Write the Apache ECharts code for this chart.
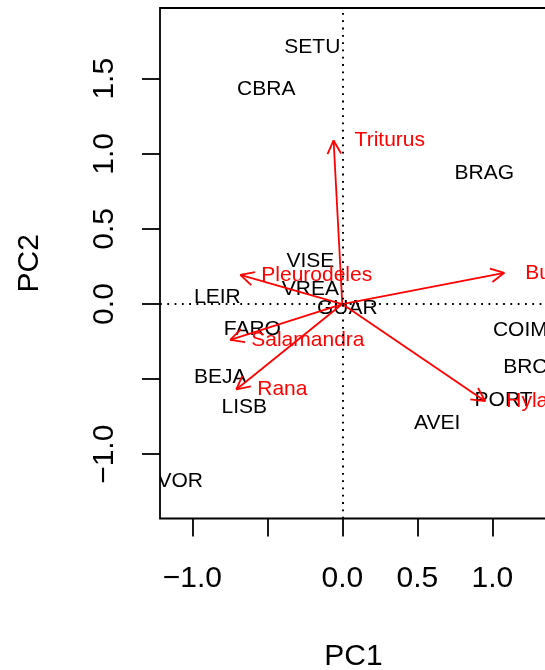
<!DOCTYPE html>
<html>
<head>
<meta charset="utf-8">
<script src="https://cdn.jsdelivr.net/npm/echarts@6/dist/echarts.min.js"></script>
<style>
  html, body { margin: 0; padding: 0; background: #fff; }
  #main { width: 545px; height: 670px; }
</style>
</head>
<body>
<div id="main"></div>
<script>
// PCA biplot: district scores (black) and species loadings (red arrows)
const siteNames = ['SETU', 'CBRA', 'BRAG', 'VISE', 'VREA', 'LEIR', 'GUAR', 'FARO',
                   'COIM', 'BRCA', 'BEJA', 'LISB', 'PORT', 'AVEI', 'EVOR'];
const siteX = [-0.200, -0.507, 0.947, -0.213, -0.213, -0.833, 0.033, -0.600,
               1.187, 1.267, -0.813, -0.653, 1.075, 0.633, -1.127];
const siteY = [1.708, 1.428, 0.869, 0.285, 0.101, 0.043, -0.030, -0.170,
               -0.176, -0.423, -0.489, -0.689, -0.642, -0.796, -1.182];

const speciesNames = ['Triturus', 'Pleurodeles', 'Bufo', 'Salamandra', 'Rana', 'Hyla'];
const speciesX = [-0.058, -0.680, 1.080, -0.747, -0.707, 0.953];
const speciesY = [1.089, 0.194, 0.208, -0.238, -0.569, -0.647];

const xTickValues = [-1.0, -0.5, 0.0, 0.5, 1.0];
const xLabelValues = [-1.0, 0.0, 0.5, 1.0];
const yTickValues = [-1.0, -0.5, 0.0, 0.5, 1.0, 1.5];
const yLabelValues = [-1.0, 0.0, 0.5, 1.0, 1.5];

const FONT = '"Liberation Sans", Arial, Helvetica, sans-serif';
const RED = '#ff0000';

const fmt = v => v.toFixed(1).replace('-', '\u2212');

const chart = echarts.init(document.getElementById('main'), null, { renderer: 'canvas' });

const option = {
  animation: false,
  backgroundColor: '#ffffff',
  grid: {
    left: 160, top: 8, right: -2, bottom: 151.5,
    containLabel: false, outerBoundsMode: 'none',
    show: true, borderColor: '#000', borderWidth: 1.8, backgroundColor: 'transparent'
  },
  xAxis: {
    type: 'value', min: -1.2153, max: 1.3647,
    name: 'PC1', nameLocation: 'middle', nameGap: 123,
    nameTextStyle: { fontSize: 30, color: '#000', fontFamily: FONT },
    axisLine: { show: false, onZero: false },
    splitLine: { show: false },
    axisTick: { show: true, length: 18, customValues: xTickValues,
                lineStyle: { color: '#000', width: 1.8 } },
    axisLabel: { customValues: xLabelValues, formatter: fmt, fontSize: 30,
                 margin: 45, color: '#000', fontFamily: FONT }
  },
  yAxis: {
    type: 'value', min: -1.428, max: 1.971,
    name: 'PC2', nameLocation: 'middle', nameGap: 115, nameRotate: 90,
    nameTextStyle: { fontSize: 30, color: '#000', fontFamily: FONT },
    axisLine: { show: false, onZero: false },
    splitLine: { show: false },
    axisTick: { show: true, length: 18, customValues: yTickValues,
                lineStyle: { color: '#000', width: 1.8 } },
    axisLabel: { customValues: yLabelValues, formatter: fmt, fontSize: 30, rotate: 90,
                 margin: 40, color: '#000', fontFamily: FONT }
  },
  series: [
    {
      // dotted reference lines through the origin
      type: 'scatter', data: [], z: 1, silent: true,
      markLine: {
        silent: true, symbol: 'none', animation: false,
        label: { show: false },
        lineStyle: { color: '#000', width: 2, type: [1.8, 5.5] },
        data: [{ xAxis: 0 }, { yAxis: 0 }]
      }
    },
    {
      // district labels
      type: 'custom', clip: true, z: 3,
      data: siteX.map((x, i) => [x, siteY[i], i]),
      encode: { x: 0, y: 1 },
      renderItem: (params, api) => {
        const p = api.coord([api.value(0), api.value(1)]);
        return {
          type: 'text',
          style: {
            text: siteNames[api.value(2)], x: p[0], y: p[1],
            align: 'center', verticalAlign: 'middle',
            fill: '#000', font: '21px ' + FONT
          }
        };
      }
    },
    {
      // species loading arrows with labels
      type: 'custom', clip: true, z: 4,
      data: speciesX.map((x, i) => [x, speciesY[i], i]),
      encode: { x: 0, y: 1 },
      renderItem: (params, api) => {
        const o = api.coord([0, 0]);
        const t = api.coord([api.value(0), api.value(1)]);
        const ang = Math.atan2(o[1] - t[1], o[0] - t[0]);
        const len = 15, spread = 27 * Math.PI / 180;
        const h1 = [t[0] + len * Math.cos(ang + spread), t[1] + len * Math.sin(ang + spread)];
        const h2 = [t[0] + len * Math.cos(ang - spread), t[1] + len * Math.sin(ang - spread)];
        const ls = { stroke: RED, lineWidth: 1.8, fill: 'none' };
        return {
          type: 'group',
          children: [
            { type: 'line', shape: { x1: o[0], y1: o[1], x2: t[0], y2: t[1] }, style: ls },
            { type: 'line', shape: { x1: h1[0], y1: h1[1], x2: t[0], y2: t[1] }, style: ls },
            { type: 'line', shape: { x1: h2[0], y1: h2[1], x2: t[0], y2: t[1] }, style: ls },
            {
              type: 'text',
              style: {
                text: speciesNames[api.value(2)], x: t[0] + 21, y: t[1],
                align: 'left', verticalAlign: 'middle',
                fill: RED, font: '21px ' + FONT
              }
            }
          ]
        };
      }
    }
  ]
};

chart.setOption(option);
</script>
</body>
</html>
